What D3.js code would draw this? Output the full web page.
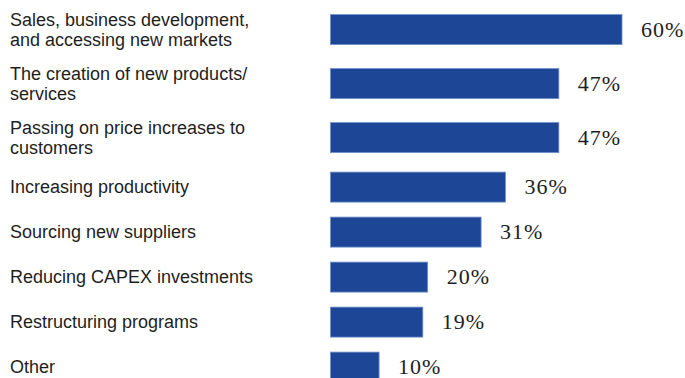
<!DOCTYPE html>
<html>
<head>
<meta charset="utf-8">
<script src="https://cdn.jsdelivr.net/npm/d3@7"></script>
<style>
  html, body { margin: 0; padding: 0; background: #ffffff; }
  svg { display: block; }
  .cat { font-family: "Liberation Sans", Arial, Helvetica, sans-serif; font-size: 18px; fill: #1e1e1e; }
  .val { font-family: "Liberation Serif", "DejaVu Serif", serif; font-size: 22px; fill: #1e1e1e;
         letter-spacing: 1px; font-variant-numeric: oldstyle-nums; }
</style>
</head>
<body>
<svg id="chart" width="685" height="378"></svg>
<script>
// Answers, top to bottom; each label is split into the lines it is set on.
const categories = [
  ["Sales, business development,", "and accessing new markets"],
  ["The creation of new products/", "services"],
  ["Passing on price increases to", "customers"],
  ["Increasing productivity"],
  ["Sourcing new suppliers"],
  ["Reducing CAPEX investments"],
  ["Restructuring programs"],
  ["Other"]
];
const values = [60, 47, 47, 36, 31, 20, 19, 10];
const valueLabels = ["60%", "47%", "47%", "36%", "31%", "20%", "19%", "10%"];

const svg = d3.select("#chart");

// Row layout: rows whose label wraps onto two lines take more room.
const rowHeight = lines => lines.length > 1 ? 54 : 45;
const firstCenter = 29.6;
const steps = categories.slice(1).map((c, i) => (rowHeight(categories[i]) + rowHeight(c)) / 2);
const centers = [firstCenter, ...Array.from(d3.cumsum(steps), s => firstCenter + s)];

const y = d3.scaleOrdinal()
  .domain(d3.range(categories.length))
  .range(centers);

const x = d3.scaleLinear()
  .domain([0, 60])
  .range([330.5, 622]);

const barH = 30;
const lineGap = 20;

const rows = svg.selectAll("g.row")
  .data(values.map((v, i) => ({ v, i, lines: categories[i], label: valueLabels[i] })))
  .join("g")
  .attr("class", "row");

rows.append("rect")
  .attr("x", x(0))
  .attr("y", d => y(d.i) - barH / 2)
  .attr("width", d => x(d.v) - x(0))
  .attr("height", barH)
  .attr("fill", "#1d4796")
  .attr("stroke", "#6f8fcb")
  .attr("stroke-width", 0.8);

rows.append("text")
  .attr("class", "cat")
  .attr("x", 10)
  .attr("y", d => y(d.i) + 6 - (d.lines.length - 1) * lineGap / 2)
  .selectAll("tspan")
  .data(d => d.lines)
  .join("tspan")
  .attr("x", 10)
  .attr("dy", (t, k) => k === 0 ? 0 : lineGap)
  .text(t => t);

rows.append("text")
  .attr("class", "val")
  .attr("x", d => x(d.v) + 19)
  .attr("y", d => y(d.i) + 7.2)
  .text(d => d.label);
</script>
</body>
</html>
